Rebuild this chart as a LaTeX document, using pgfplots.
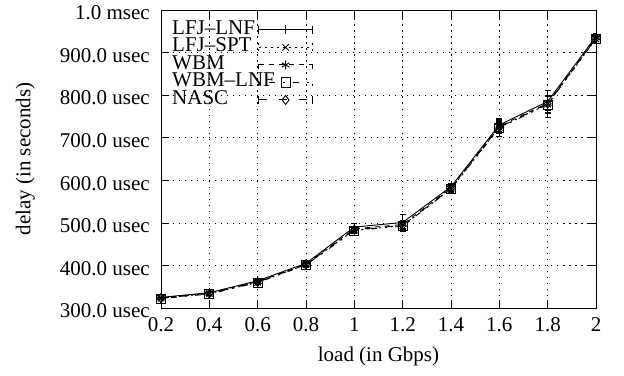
\documentclass[border=0pt]{standalone}
\usepackage{fontspec}
\setmainfont{Liberation Serif}
\usepackage{pgfplots}
\pgfplotsset{compat=1.18}
\pgfplotstableset{col sep=space}
\begin{document}
\fontsize{21bp}{25bp}\selectfont
\begin{tikzpicture}
\useasboundingbox (-161bp,-68bp) rectangle (463bp,308bp);
\begin{axis}[
  at={(0,0)}, anchor=south west,
  scale only axis, width=435bp, height=298bp,
  xmin=0.2, xmax=2, ymin=300, ymax=1000,
  xtick={0.2,0.4,0.6,0.8,1,1.2,1.4,1.6,1.8,2},
  xticklabels={0.2,0.4,0.6,0.8,1,1.2,1.4,1.6,1.8,2},
  ytick={300,400,500,600,700,800,900,1000},
  yticklabels={300.0 usec,400.0 usec,500.0 usec,600.0 usec,700.0 usec,800.0 usec,900.0 usec,1.0 msec},
  /pgf/number format/assume math mode=true,
  tick align=inside, major tick length=8bp,
  tick style={black, line width=0.7bp},
  axis line style={line width=0.9bp},
  grid=major,
  major grid style={black, line width=0.7bp, dash pattern=on 1.5bp off 4.5bp},
  xlabel={load (in Gbps)}, ylabel={delay (in seconds)},
  every axis x label/.style={at={(axis description cs:0.5,0)}, anchor=north, yshift=-32bp},
  every axis y label/.style={at={(axis description cs:-0.312,0.5)}, rotate=90, anchor=center},
  xticklabel style={yshift=-2bp},
  yticklabel style={xshift=-4bp, yshift=-3bp},
  legend cell align=left,
  legend plot pos=right,
  legend style={at={(0,1)}, anchor=north west, xshift=11bp, yshift=-11bp,
    draw=none, fill=none, inner sep=0pt, row sep=0bp,
    nodes={inner sep=0pt, text height=13bp, text depth=4.5bp}},
  legend image code/.code={
    \draw[mark repeat=2,mark phase=2,#1] plot coordinates {(0bp,0bp) (27bp,0bp) (54bp,0bp)};
    \draw[#1] (0bp,-4bp) -- (0bp,4bp) (54bp,-4bp) -- (54bp,4bp);
  },
  every axis plot/.append style={black, line width=0.9bp, mark size=4.5bp, mark options={solid}},
  error bars/error bar style={solid, line width=0.8bp},
  error bars/error mark options={rotate=90, mark size=3bp, solid, line width=0.8bp},
]
\addplot[mark=+, error bars/.cd, y dir=both, y explicit] table[x=x, y=y, y error=e] {
x y e
0.2 325 4
0.4 336 4
0.6 364 5
0.8 405 5
1.0 490 8
1.2 501 20
1.4 585 8
1.6 730 15
1.8 785 25
2.0 938 8
};
\addlegendentry{\makebox[86bp][l]{LFJ–LNF}}
\addplot[mark=x, dash pattern=on 2bp off 4bp, error bars/.cd, y dir=both, y explicit] table[x=x, y=y, y error=e] {
x y e
0.2 323 4
0.4 334 4
0.6 360 5
0.8 402 5
1.0 483 6
1.2 493 12
1.4 580 8
1.6 724 20
1.8 779 20
2.0 932 8
};
\addlegendentry{\makebox[86bp][l]{LFJ–SPT}}
\addplot[mark=asterisk, dash pattern=on 5bp off 5bp, error bars/.cd, y dir=both, y explicit] table[x=x, y=y, y error=e] {
x y e
0.2 324 4
0.4 335 4
0.6 362 5
0.8 403 5
1.0 486 6
1.2 496 10
1.4 582 8
1.6 727 12
1.8 781 18
2.0 935 8
};
\addlegendentry{\makebox[86bp][l]{WBM}}
\addplot[mark=square, dash pattern=on 2bp off 8bp on 6bp off 8bp, error bars/.cd, y dir=both, y explicit] table[x=x, y=y, y error=e] {
x y e
0.2 322 4
0.4 333 4
0.6 360 5
0.8 401 5
1.0 482 6
1.2 492 10
1.4 580 8
1.6 723 12
1.8 778 20
2.0 933 8
};
\addlegendentry{\makebox[86bp][l]{WBM–LNF}}
\addplot[mark=diamond, dash pattern=on 8bp off 12bp, error bars/.cd, y dir=both, y explicit] table[x=x, y=y, y error=e] {
x y e
0.2 323 4
0.4 334 4
0.6 361 5
0.8 402 5
1.0 484 6
1.2 494 10
1.4 581 8
1.6 725 15
1.8 780 32
2.0 934 8
};
\addlegendentry{\makebox[86bp][l]{NASC}}
\end{axis}
\end{tikzpicture}
\end{document}
